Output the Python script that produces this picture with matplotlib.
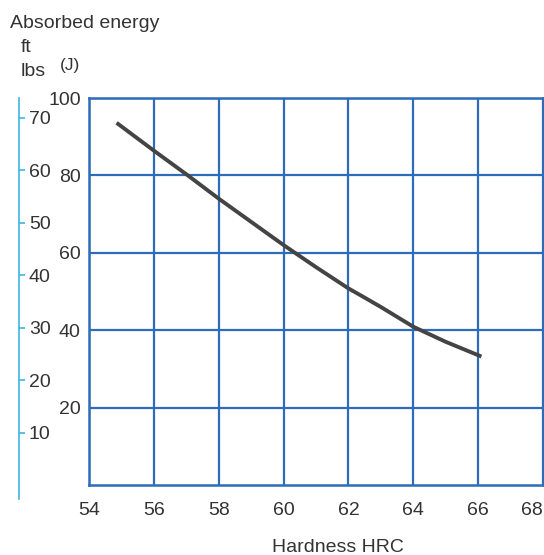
import matplotlib.pyplot as plt

# hardness (HRC) vs absorbed energy (J)
hrc = [54.85, 56.0, 57.0, 58.0, 59.0, 60.0, 61.0, 62.0, 62.4, 63.0, 64.0, 65.0, 66.1]
energy_j = [93.6, 86.4, 80.3, 74.0, 68.0, 62.0, 56.3, 50.8, 48.9, 46.0, 40.9, 37.0, 33.2]

x_ticks = [54, 56, 58, 60, 62, 64, 66, 68]
j_ticks = [20, 40, 60, 80, 100]
ftlb_ticks = [10, 20, 30, 40, 50, 60, 70]
J_PER_FTLB = 1.3558

blue = "#2d6cb8"
teal = "#3cb4e3"
txt = "#333333"

plt.rcParams["font.family"] = ["Liberation Sans", "DejaVu Sans"]

fig = plt.figure(figsize=(5.44, 5.55), dpi=100)
ax = fig.add_axes([0.1636, 0.1261, 0.8346, 0.6973])

ax.plot(hrc, energy_j, color="#444444", lw=2.8, solid_capstyle="butt", zorder=3)

ax.set_xlim(54, 68)
ax.set_ylim(0, 100)
ax.set_xticks(x_ticks)
ax.set_yticks(j_ticks)
ax.grid(True, color=blue, lw=1.6)
for s in ax.spines.values():
    s.set_color(blue)
    s.set_linewidth(1.8)
ax.tick_params(axis="both", length=0, labelsize=14, labelcolor=txt)
ax.tick_params(axis="x", pad=12)
ax.tick_params(axis="y", pad=6)
ax.get_xticklabels()[-1].set_horizontalalignment("right")

# second scale in ft lbs, drawn to the left of the J labels
ax2 = ax.twinx()
ax2.set_ylim(0, 100 / J_PER_FTLB)
for k in ["top", "bottom", "left"]:
    ax2.spines[k].set_visible(False)
ax2.spines["right"].set_position(("axes", -0.154))
ax2.spines["right"].set_bounds(-2.66, 100 / J_PER_FTLB)
ax2.spines["right"].set_color(teal)
ax2.spines["right"].set_linewidth(1.2)
ax2.set_yticks(ftlb_ticks)
ax2.tick_params(axis="y", direction="out", length=4, width=1.2, color=teal,
                pad=3, labelsize=14, labelcolor=txt)

fig.text(10 / 544, 1 - 28 / 555, "Absorbed energy", fontsize=14, color=txt)
fig.text(21 / 544, 1 - 52 / 555, "ft", fontsize=14, color=txt)
fig.text(21 / 544, 1 - 76 / 555, "lbs", fontsize=14, color=txt)
fig.text(60 / 544, 1 - 70 / 555, "(J)", fontsize=12.5, color=txt)
fig.text(338 / 544, 1 - 547 / 555, "Hardness HRC", fontsize=14, color=txt,
         ha="center", va="center")

fig.savefig("out.png", dpi=100)
